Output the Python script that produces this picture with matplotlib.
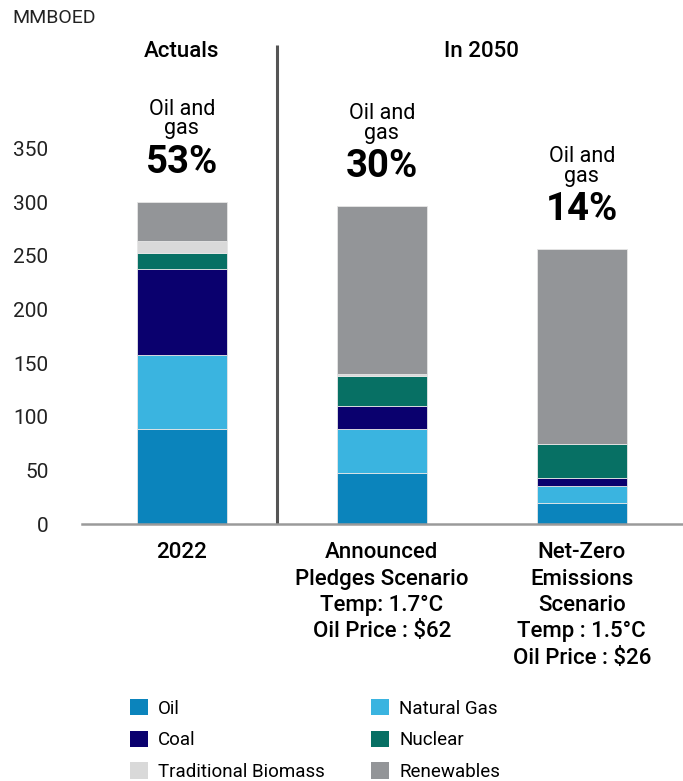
import numpy as np
import matplotlib
matplotlib.use("Agg")
import matplotlib.pyplot as plt
from matplotlib.patches import Patch

plt.rcParams["font.family"] = ["Roboto", "DejaVu Sans"]

# values in MMBOED
categories = ["2022",
              "Announced\nPledges Scenario\nTemp: 1.7°C\nOil Price : $62",
              "Net-Zero\nEmissions\nScenario\nTemp : 1.5°C\nOil Price : $26"]
sources = ["Oil", "Natural Gas", "Coal", "Nuclear", "Traditional Biomass", "Renewables"]
oil = [89, 48, 20]
natural_gas = [69, 41, 16]
coal = [80, 21, 7]
nuclear = [15, 28, 32]
biomass = [11, 2, 0]
renewables = [36, 156, 181]
oil_gas_share = ["53%", "30%", "14%"]
groups = ["Actuals", "In 2050"]

colors = ["#0B84BC", "#3AB4E0", "#0A006E", "#077064", "#D9D9D9", "#939598"]

fig = plt.figure(figsize=(6.83, 7.81), dpi=100)
ax = fig.add_axes([0.1196, 0.3287, 0.8785, 0.4813])

x = np.arange(len(categories))
bottom = np.zeros(len(categories))
series = [oil, natural_gas, coal, nuclear, biomass, renewables]
for vals, col, name in zip(series, colors, sources):
    vals = np.array(vals, dtype=float)
    ax.bar(x, vals, width=0.45, bottom=bottom, color=col, label=name,
           edgecolor="#e6e6e6", linewidth=0.6)
    bottom += vals

# annotations above each bar
for xi, tot, pct in zip(x, bottom, oil_gas_share):
    ax.annotate(pct, (xi, tot), xytext=(0, 40), textcoords="offset pixels",
                ha="center", va="center", fontsize=27.5, fontweight="bold",
                annotation_clip=False)
    ax.annotate("Oil and\ngas", (xi, tot), xytext=(0, 83), textcoords="offset pixels",
                ha="center", va="center", fontsize=15.5, linespacing=0.9,
                annotation_clip=False)

# group headers and divider
ax.text(0, 440, groups[0], ha="center", va="center", fontsize=16,
        fontweight="medium", clip_on=False)
ax.text(1.5, 440, groups[1], ha="center", va="center", fontsize=16,
        fontweight="medium", clip_on=False)
ax.plot([0.475, 0.475], [0, 446], color="#555555", lw=2.2, clip_on=False,
        solid_capstyle="butt")

ax.set_xlim(-0.5, 2.5)
ax.set_ylim(0, 350)
ax.set_yticks(np.arange(0, 351, 50))
ax.set_xticks(x)
ax.set_xticklabels(categories, fontsize=16, fontweight="medium", linespacing=1.33)
ax.tick_params(axis="y", length=0, pad=24, labelsize=15)
ax.tick_params(axis="x", length=0, pad=13)
for lbl in ax.get_yticklabels():
    lbl.set_color("#222222")

for s in ["top", "right", "left"]:
    ax.spines[s].set_visible(False)
ax.spines["bottom"].set_color("#9a9a9a")
ax.spines["bottom"].set_linewidth(1.8)

fig.text(12 / 683, 1 - 18 / 781, "MMBOED", fontsize=14, va="center", ha="left",
         color="#222222")

order = [0, 2, 4, 1, 3, 5]
handles = [Patch(facecolor=colors[i], edgecolor="none") for i in order]
labels = [sources[i] for i in order]
fig.legend(handles, labels, ncol=2, loc="upper left",
           bbox_to_anchor=(0.19, 0.105), frameon=False, fontsize=13.5,
           handlelength=0.96, handleheight=0.96, handletextpad=0.55,
           columnspacing=2.45, labelspacing=0.7, borderaxespad=0,
           borderpad=0)

fig.savefig("out.png", dpi=100)
